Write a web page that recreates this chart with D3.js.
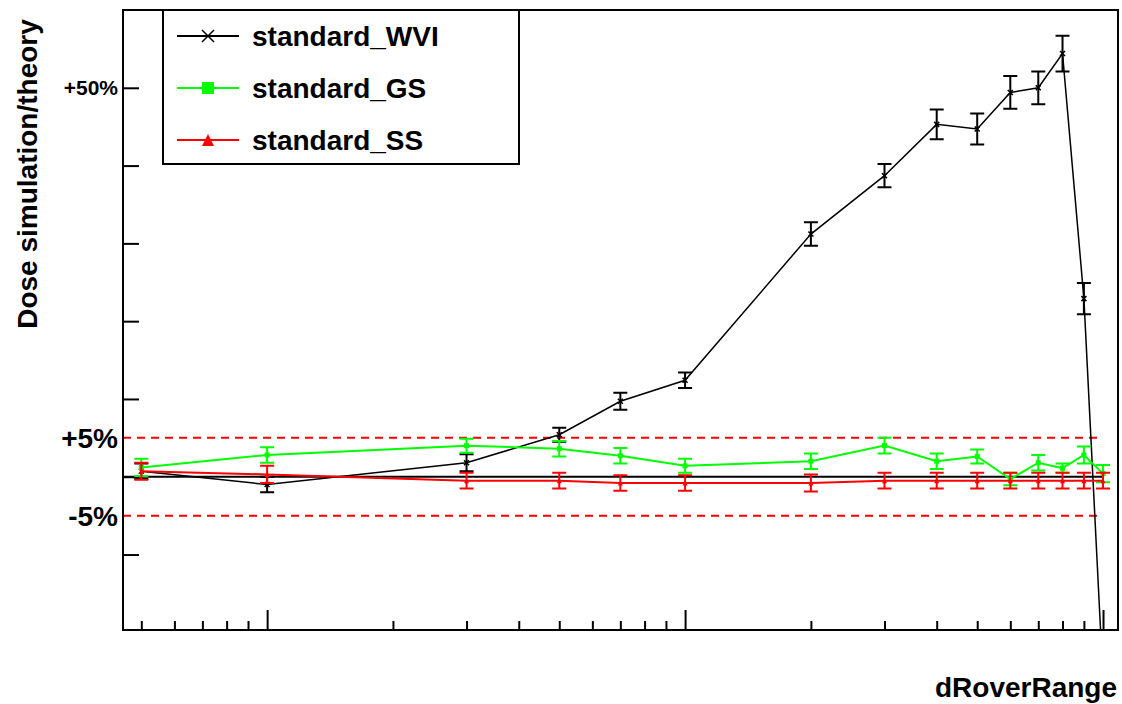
<!DOCTYPE html>
<html>
<head>
<meta charset="utf-8">
<script src="https://cdn.jsdelivr.net/npm/d3@7"></script>
<style>
  body { margin: 0; background: #ffffff; }
  text { font-family: "Liberation Sans", Arial, sans-serif; font-weight: bold; }
</style>
</head>
<body>
<div id="chart"></div>
<script>
// dRoverRange values (log axis)
var xValues = [0.005, 0.01, 0.03, 0.05, 0.07, 0.1, 0.2, 0.3, 0.4, 0.5, 0.6, 0.7, 0.8, 0.9, 1.0];

// deviation of simulation from theory, in percent
var wviValues = [0.7, -1.0, 1.8, 5.4, 9.7, 12.4, 31.2, 38.7, 45.3, 44.7, 49.4, 50.0, 54.4, 22.9, -26];
var wviErrors = [1.0, 1.0, 1.1, 0.9, 1.1, 1.0, 1.5, 1.5, 1.9, 2.0, 2.1, 2.1, 2.3, 2.0, 2.0];
var gsValues = [1.2, 2.8, 4.0, 3.6, 2.7, 1.4, 2.0, 4.0, 2.0, 2.6, -0.3, 1.8, 1.1, 2.8, 0.4];
var gsErrors = [1.1, 1.0, 0.9, 1.0, 1.0, 0.9, 1.0, 1.0, 1.0, 0.9, 0.8, 1.0, 0.6, 1.1, 1.1];
var ssValues = [0.7, 0.3, -0.5, -0.5, -0.8, -0.8, -0.8, -0.5, -0.5, -0.5, -0.5, -0.5, -0.5, -0.5, -0.5];
var ssErrors = [1.1, 1.1, 1.0, 1.0, 1.0, 1.0, 1.1, 1.0, 1.0, 1.0, 1.0, 1.0, 1.0, 1.0, 1.0];

var seriesNames = ["standard_WVI", "standard_GS", "standard_SS"];

// axis ticks and labels
var xMajorTicks = [0.01, 0.1, 1];
var xMinorTicks = [0.005, 0.006, 0.007, 0.008, 0.009,
                   0.02, 0.03, 0.04, 0.05, 0.06, 0.07, 0.08, 0.09,
                   0.2, 0.3, 0.4, 0.5, 0.6, 0.7, 0.8, 0.9];
var yTicks = [-10, 0, 10, 20, 30, 40, 50];
var yLabelValues = [50, 5, -5];
var yLabelTexts = ["+50%", "+5%", "-5%"];
var refLines = [5, -5];

var width = 1122;
var height = 704;
var frameL = 123, frameR = 1118, frameT = 10, frameB = 630;

var x = d3.scaleLog().domain([0.00452, 1.086]).range([frameL, frameR]);
var y = d3.scaleLinear().domain([-19.7, 60]).range([frameB, frameT]);

var svg = d3.select("#chart")
    .append("svg")
    .attr("width", width)
    .attr("height", height);

svg.append("rect").attr("width", width).attr("height", height).attr("fill", "#ffffff");

svg.append("defs").append("clipPath").attr("id", "plotclip")
    .append("rect")
    .attr("x", frameL).attr("y", frameT)
    .attr("width", frameR - frameL).attr("height", frameB - frameT);

// x axis ticks (pointing into the frame)
svg.append("g")
    .attr("transform", "translate(0," + frameB + ")")
    .call(d3.axisBottom(x).tickValues(xMinorTicks).tickSize(-9).tickFormat(""))
    .call(function (g) { g.select(".domain").remove(); })
    .selectAll("line").attr("stroke", "#000").attr("stroke-width", 2);

svg.append("g")
    .attr("transform", "translate(0," + frameB + ")")
    .call(d3.axisBottom(x).tickValues(xMajorTicks).tickSize(-20).tickFormat(""))
    .call(function (g) { g.select(".domain").remove(); })
    .selectAll("line").attr("stroke", "#000").attr("stroke-width", 2);

// y axis ticks
svg.append("g")
    .attr("transform", "translate(" + frameL + ",0)")
    .call(d3.axisLeft(y).tickValues(yTicks).tickSize(-16).tickFormat(""))
    .call(function (g) { g.select(".domain").remove(); })
    .selectAll("line").attr("stroke", "#000").attr("stroke-width", 2);

// y labels
svg.selectAll(".ylab")
    .data(yLabelValues)
    .enter()
    .append("text")
    .attr("class", "ylab")
    .attr("x", 118)
    .attr("y", function (d) { return y(d); })
    .attr("dy", "0.36em")
    .attr("text-anchor", "end")
    .style("font-size", function (d, i) { return i === 0 ? "21px" : "28px"; })
    .text(function (d, i) { return yLabelTexts[i]; });

var plot = svg.append("g").attr("clip-path", "url(#plotclip)");

// reference lines
plot.append("line")
    .attr("x1", frameL).attr("x2", x(1))
    .attr("y1", y(0)).attr("y2", y(0))
    .attr("stroke", "#000").attr("stroke-width", 2);

plot.selectAll(".ref")
    .data(refLines)
    .enter()
    .append("line")
    .attr("class", "ref")
    .attr("x1", frameL).attr("x2", x(1))
    .attr("y1", function (d) { return y(d); })
    .attr("y2", function (d) { return y(d); })
    .attr("stroke", "#ff0000")
    .attr("stroke-width", 2)
    .attr("stroke-dasharray", "8,6");

var series = [
    { name: seriesNames[0], values: wviValues, errors: wviErrors, color: "#000000", marker: "x", lw: 1.5 },
    { name: seriesNames[1], values: gsValues, errors: gsErrors, color: "#00ff00", marker: "square", lw: 2 },
    { name: seriesNames[2], values: ssValues, errors: ssErrors, color: "#ff0000", marker: "triangle", lw: 2 }
];

function drawMarker(g, type, cx, cy, s, color) {
    if (type === "x") {
        g.append("path")
            .attr("d", "M" + (cx - s) + "," + (cy - s) + "L" + (cx + s) + "," + (cy + s) +
                       "M" + (cx - s) + "," + (cy + s) + "L" + (cx + s) + "," + (cy - s))
            .attr("stroke", color).attr("stroke-width", 1.5).attr("fill", "none");
    } else if (type === "square") {
        g.append("rect")
            .attr("x", cx - s).attr("y", cy - s)
            .attr("width", 2 * s).attr("height", 2 * s)
            .attr("fill", color);
    } else {
        g.append("path")
            .attr("d", "M" + cx + "," + (cy - s) + "L" + (cx + s) + "," + (cy + s) + "L" + (cx - s) + "," + (cy + s) + "Z")
            .attr("fill", color);
    }
}

var line = d3.line()
    .x(function (d) { return x(d.x); })
    .y(function (d) { return y(d.v); });

series.forEach(function (s) {
    var pts = xValues.map(function (xv, i) { return { x: xv, v: s.values[i], e: s.errors[i] }; });
    var g = plot.append("g");

    g.append("path")
        .datum(pts)
        .attr("d", line)
        .attr("fill", "none")
        .attr("stroke", s.color)
        .attr("stroke-width", s.lw);

    g.selectAll(".err")
        .data(pts)
        .enter()
        .append("path")
        .attr("d", function (d) {
            var cx = x(d.x), y1 = y(d.v + d.e), y2 = y(d.v - d.e);
            return "M" + cx + "," + y1 + "L" + cx + "," + y2 +
                   "M" + (cx - 7) + "," + y1 + "L" + (cx + 7) + "," + y1 +
                   "M" + (cx - 7) + "," + y2 + "L" + (cx + 7) + "," + y2;
        })
        .attr("fill", "none")
        .attr("stroke", s.color)
        .attr("stroke-width", 2);

    pts.forEach(function (d) {
        drawMarker(g, s.marker, x(d.x), y(d.v), 2.5, s.color);
    });
});

// frame
svg.append("rect")
    .attr("x", frameL).attr("y", frameT)
    .attr("width", frameR - frameL).attr("height", frameB - frameT)
    .attr("fill", "none")
    .attr("stroke", "#000")
    .attr("stroke-width", 2);

// legend
var legend = svg.append("g");
legend.append("rect")
    .attr("x", 163).attr("y", 10)
    .attr("width", 356).attr("height", 154)
    .attr("fill", "#ffffff")
    .attr("stroke", "#000")
    .attr("stroke-width", 2);

series.forEach(function (s, i) {
    var ly = 36 + i * 52;
    legend.append("line")
        .attr("x1", 177).attr("x2", 239)
        .attr("y1", ly).attr("y2", ly)
        .attr("stroke", s.color)
        .attr("stroke-width", 2);
    drawMarker(legend, s.marker, 208, ly, 6, s.color);
    legend.append("text")
        .attr("x", 252)
        .attr("y", ly)
        .attr("dy", "0.36em")
        .style("font-size", "28px")
        .text(s.name);
});

// axis titles
svg.append("text")
    .attr("transform", "translate(37,174) rotate(-90)")
    .attr("text-anchor", "middle")
    .style("font-size", "28px")
    .text("Dose simulation/theory");

svg.append("text")
    .attr("x", 1117)
    .attr("y", 697)
    .attr("text-anchor", "end")
    .style("font-size", "28px")
    .text("dRoverRange");
</script>
</body>
</html>
